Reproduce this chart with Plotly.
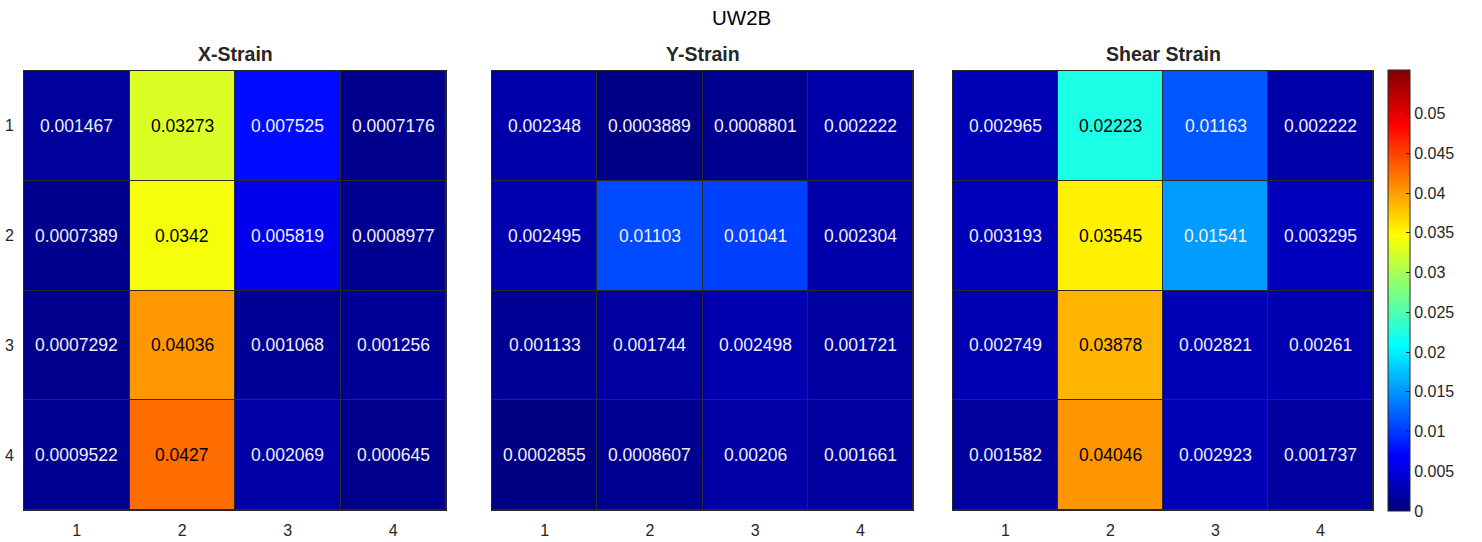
import plotly.graph_objects as go

rows = [1, 2, 3, 4]
cols = [1, 2, 3, 4]
titles = ["X-Strain", "Y-Strain", "Shear Strain"]
main_title = "UW2B"

x_strain = [
    [0.001467, 0.03273, 0.007525, 0.0007176],
    [0.0007389, 0.0342, 0.005819, 0.0008977],
    [0.0007292, 0.04036, 0.001068, 0.001256],
    [0.0009522, 0.0427, 0.002069, 0.000645],
]
y_strain = [
    [0.002348, 0.0003889, 0.0008801, 0.002222],
    [0.002495, 0.01103, 0.01041, 0.002304],
    [0.001133, 0.001744, 0.002498, 0.001721],
    [0.0002855, 0.0008607, 0.00206, 0.001661],
]
shear_strain = [
    [0.002965, 0.02223, 0.01163, 0.002222],
    [0.003193, 0.03545, 0.01541, 0.003295],
    [0.002749, 0.03878, 0.002821, 0.00261],
    [0.001582, 0.04046, 0.002923, 0.001737],
]
cb_ticks = [0, 0.005, 0.01, 0.015, 0.02, 0.025, 0.03, 0.035, 0.04, 0.045, 0.05]
cmin, cmax = 0.0, 0.0555

jet = [
    [0.0, "rgb(0,0,128)"],
    [0.125, "rgb(0,0,255)"],
    [0.375, "rgb(0,255,255)"],
    [0.625, "rgb(255,255,0)"],
    [0.875, "rgb(255,0,0)"],
    [1.0, "rgb(128,0,0)"],
]


def jet_rgb(t):
    pts = [(0.0, (0, 0, 128)), (0.125, (0, 0, 255)), (0.375, (0, 255, 255)),
           (0.625, (255, 255, 0)), (0.875, (255, 0, 0)), (1.0, (128, 0, 0))]
    t = min(max(t, 0), 1)
    for (a, ca), (b, cb) in zip(pts[:-1], pts[1:]):
        if a <= t <= b:
            f = (t - a) / (b - a)
            return tuple(ca[i] + f * (cb[i] - ca[i]) for i in range(3))
    return pts[-1][1]


FONT = "Liberation Sans, Arial, sans-serif"
W, H = 1482, 542
x_doms = [[24 / W, 446 / W], [492 / W, 913 / W], [953 / W, 1373 / W]]
y_dom = [1 - 510 / H, 1 - 71 / H]

fig = go.Figure()
datasets = [x_strain, y_strain, shear_strain]
annotations = []
for k, data in enumerate(datasets):
    ax = "" if k == 0 else str(k + 1)
    fig.add_trace(go.Heatmap(
        z=data, x=cols, y=rows, coloraxis="coloraxis",
        xgap=1, ygap=1, xaxis="x" + ax, yaxis="y" + ax,
        hoverinfo="z",
    ))
    for i, r in enumerate(rows):
        for j, c in enumerate(cols):
            v = data[i][j]
            rgb = jet_rgb((v - cmin) / (cmax - cmin))
            lum = (0.299 * rgb[0] + 0.587 * rgb[1] + 0.114 * rgb[2]) / 255
            color = "#000000" if lum > 0.52 else "#f0f0f0"
            annotations.append(dict(
                x=c, y=r, xref="x" + ax, yref="y" + ax, text=f"{v:.4g}",
                showarrow=False, font=dict(size=17.5, color=color, family=FONT)))
    annotations.append(dict(
        x=sum(x_doms[k]) / 2, y=1 - 54 / H, xref="paper", yref="paper",
        xanchor="center", yanchor="middle",
        text="<b>" + titles[k] + "</b>", showarrow=False,
        font=dict(size=19.5, color="#262626", family=FONT)))

annotations.append(dict(
    x=0.5, y=1 - 18 / H, xref="paper", yref="paper", text=main_title,
    xanchor="center", yanchor="middle",
    showarrow=False, font=dict(size=20.5, color="#000000", family=FONT)))

layout = dict(
    width=W, height=H,
    margin=dict(l=0, r=0, t=0, b=0),
    paper_bgcolor="white",
    plot_bgcolor="#2a2a2a",
    font=dict(family=FONT, size=16, color="#262626"),
    annotations=annotations,
    coloraxis=dict(
        colorscale=jet, cmin=cmin, cmax=cmax,
        colorbar=dict(
            x=1388 / W, xanchor="left", thickness=22, xpad=0, ypad=0,
            lenmode="fraction", len=(511 - 70) / H,
            y=1 - 511 / H, yanchor="bottom",
            tickvals=cb_ticks, ticktext=[f"{t:g}" for t in cb_ticks],
            ticks="inside", ticklen=4, tickcolor="#262626",
            outlinewidth=1, outlinecolor="#262626",
            tickfont=dict(size=16, color="#262626", family=FONT),
        ),
    ),
)
for k in range(3):
    ax = "" if k == 0 else str(k + 1)
    layout["xaxis" + ax] = dict(
        domain=x_doms[k], anchor="y" + ax, range=[0.5, 4.5],
        tickvals=cols, ticks="", showgrid=False, zeroline=False,
        showline=True, mirror=True, linecolor="#262626", linewidth=1,
        tickfont=dict(size=16, color="#262626", family=FONT), ticklabelstandoff=6,
    )
    layout["yaxis" + ax] = dict(
        domain=y_dom, anchor="x" + ax, range=[4.5, 0.5],
        tickvals=rows, ticks="", showgrid=False, zeroline=False,
        showline=True, mirror=True, linecolor="#262626", linewidth=1,
        showticklabels=(k == 0),
        tickfont=dict(size=16, color="#262626", family=FONT), ticklabelstandoff=6,
    )

fig.update_layout(**layout)
fig.write_html("out.html")
